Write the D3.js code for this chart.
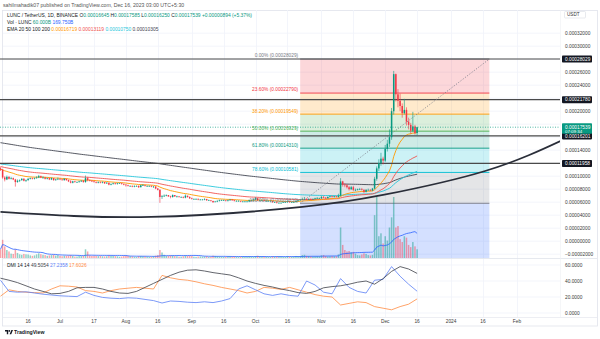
<!DOCTYPE html>
<html>
<head>
<meta charset="utf-8">
<title>LUNC / TetherUS · 1D · BINANCE</title>
<script src="https://cdn.jsdelivr.net/npm/d3@7/dist/d3.min.js"></script>
<style>
  html,body{margin:0;padding:0;background:#fff;}
  svg{display:block;font-family:"Liberation Sans",Arial,sans-serif;}
</style>
</head>
<body>
<svg id="chart" width="600" height="339"></svg>
<script>
// ---- daily candles, 3 Jun 2023 .. 16 Dec 2023 (open = previous close) ----
const startDate = "2023-06-03";
const firstOpen = 11.2e-5;
const closes = [
  11.0e-5,9.8e-5,9.5e-5,9.9e-5,9.6e-5,9.7e-5,9.5e-5,9.1e-5,9.3e-5,9.4e-5,9.6e-5,9.3e-5,9.4e-5,9.6e-5,9.7e-5,9.6e-5,9.7e-5,9.8e-5,10.0e-5,9.8e-5,9.8e-5,9.6e-5,9.7e-5,9.5e-5,9.7e-5,9.4e-5,9.5e-5,9.6e-5,
  9.5e-5,9.4e-5,9.6e-5,9.4e-5,9.2e-5,9.0e-5,9.2e-5,9.1e-5,9.1e-5,9.2e-5,9.3e-5,9.1e-5,9.7e-5,9.4e-5,9.3e-5,9.2e-5,9.1e-5,9.0e-5,9.1e-5,9.0e-5,9.1e-5,8.9e-5,9.0e-5,8.7e-5,8.8e-5,8.9e-5,8.8e-5,8.9e-5,8.9e-5,8.8e-5,8.7e-5,
  8.6e-5,8.5e-5,8.5e-5,8.4e-5,8.5e-5,8.5e-5,8.3e-5,8.6e-5,8.6e-5,8.5e-5,8.5e-5,8.5e-5,8.4e-5,8.4e-5,8.1e-5,7.9e-5,6.8e-5,6.9e-5,7.0e-5,7.1e-5,6.9e-5,6.8e-5,7.1e-5,6.9e-5,6.9e-5,6.8e-5,6.8e-5,6.7e-5,7.0e-5,6.8e-5,6.6e-5,
  6.5e-5,6.5e-5,6.5e-5,6.4e-5,6.4e-5,6.4e-5,6.5e-5,6.3e-5,6.3e-5,6.2e-5,6.0e-5,6.1e-5,6.2e-5,6.3e-5,6.3e-5,6.3e-5,6.2e-5,6.3e-5,6.4e-5,6.3e-5,6.2e-5,6.2e-5,6.2e-5,6.1e-5,6.1e-5,6.1e-5,6.1e-5,6.3e-5,6.3e-5,6.4e-5,
  6.6e-5,6.3e-5,6.3e-5,6.3e-5,6.2e-5,6.2e-5,6.2e-5,6.2e-5,6.0e-5,6.0e-5,5.9e-5,5.9e-5,5.9e-5,6.0e-5,6.0e-5,6.1e-5,6.0e-5,6.0e-5,6.0e-5,6.2e-5,6.3e-5,6.4e-5,6.5e-5,6.5e-5,6.4e-5,6.5e-5,6.4e-5,6.5e-5,6.6e-5,6.6e-5,6.6e-5,
  6.8e-5,6.7e-5,6.6e-5,6.8e-5,6.9e-5,6.8e-5,6.9e-5,6.8e-5,7.0e-5,9.2e-5,8.7e-5,8.6e-5,8.3e-5,8.0e-5,8.3e-5,7.9e-5,7.9e-5,8.0e-5,8.0e-5,7.9e-5,7.6e-5,7.9e-5,7.9e-5,7.8e-5,8.1e-5,9.6e-5,11.2e-5,12.0e-5,12.7e-5,12.4e-5,
  14.2e-5,15.0e-5,16.0e-5,20.0e-5,25.7e-5,22.6e-5,21.6e-5,20.8e-5,19.7e-5,20.2e-5,18.4e-5,17.9e-5,17.0e-5,17.65e-5,16.645e-5,17.539e-5
];
const highs = [
  11.4e-5,11.1e-5,10.0e-5,10.1e-5,10.0e-5,9.9e-5,9.8e-5,9.6e-5,9.5e-5,9.5e-5,9.7e-5,9.7e-5,9.5e-5,9.7e-5,9.8e-5,9.8e-5,9.8e-5,10.0e-5,10.2e-5,10.1e-5,10.0e-5,9.9e-5,9.8e-5,9.8e-5,9.8e-5,9.7e-5,9.6e-5,9.8e-5,
  9.7e-5,9.6e-5,9.7e-5,9.6e-5,9.5e-5,9.4e-5,9.3e-5,9.3e-5,9.2e-5,9.3e-5,9.4e-5,9.4e-5,10.1e-5,9.9e-5,9.5e-5,9.4e-5,9.3e-5,9.2e-5,9.2e-5,9.2e-5,9.2e-5,9.1e-5,9.1e-5,9.0e-5,8.9e-5,9.0e-5,9.0e-5,9.0e-5,9.0e-5,9.0e-5,8.9e-5,
  8.8e-5,8.7e-5,8.6e-5,8.6e-5,8.6e-5,8.6e-5,8.6e-5,8.7e-5,8.8e-5,8.7e-5,8.6e-5,8.6e-5,8.6e-5,8.5e-5,8.5e-5,8.2e-5,8.0e-5,7.1e-5,7.2e-5,7.2e-5,7.1e-5,7.0e-5,7.2e-5,7.1e-5,7.0e-5,6.9e-5,6.9e-5,6.9e-5,7.2e-5,7.0e-5,6.9e-5,
  6.7e-5,6.6e-5,6.6e-5,6.6e-5,6.5e-5,6.5e-5,6.6e-5,6.5e-5,6.4e-5,6.3e-5,6.2e-5,6.2e-5,6.3e-5,6.4e-5,6.4e-5,6.4e-5,6.3e-5,6.4e-5,6.5e-5,6.5e-5,6.4e-5,6.3e-5,6.3e-5,6.2e-5,6.2e-5,6.2e-5,6.2e-5,6.4e-5,6.4e-5,6.5e-5,
  6.8e-5,6.7e-5,6.4e-5,6.4e-5,6.4e-5,6.3e-5,6.3e-5,6.3e-5,6.2e-5,6.1e-5,6.1e-5,6.0e-5,6.0e-5,6.1e-5,6.1e-5,6.3e-5,6.2e-5,6.1e-5,6.1e-5,6.3e-5,6.4e-5,6.5e-5,6.7e-5,6.8e-5,6.6e-5,6.6e-5,6.6e-5,6.6e-5,6.7e-5,6.8e-5,6.7e-5,
  7.0e-5,7.0e-5,6.8e-5,6.9e-5,7.0e-5,7.0e-5,7.0e-5,7.0e-5,7.3e-5,9.7e-5,9.3e-5,8.9e-5,8.8e-5,8.5e-5,8.5e-5,8.5e-5,8.1e-5,8.1e-5,8.2e-5,8.2e-5,8.0e-5,8.0e-5,8.1e-5,8.0e-5,8.2e-5,9.9e-5,11.5e-5,12.6e-5,13.6e-5,13.0e-5,
  14.8e-5,15.6e-5,17.2e-5,20.5e-5,26.2e-5,25.8e-5,23.4e-5,22.7e-5,21.2e-5,21.9e-5,20.6e-5,19.0e-5,18.2e-5,19.9e-5,17.9e-5,17.585e-5
];
const lows = [
  10.8e-5,9.6e-5,9.2e-5,9.4e-5,9.5e-5,9.5e-5,9.4e-5,8.4e-5,9.0e-5,9.1e-5,9.3e-5,9.2e-5,9.1e-5,9.3e-5,9.5e-5,9.5e-5,9.5e-5,9.6e-5,9.7e-5,9.7e-5,9.6e-5,9.5e-5,9.5e-5,9.4e-5,9.4e-5,9.3e-5,9.3e-5,9.4e-5,
  9.4e-5,9.3e-5,9.3e-5,9.3e-5,9.1e-5,8.9e-5,8.9e-5,9.0e-5,9.0e-5,9.0e-5,9.1e-5,9.0e-5,9.0e-5,9.2e-5,9.2e-5,9.1e-5,9.0e-5,8.9e-5,8.9e-5,8.9e-5,8.9e-5,8.8e-5,8.8e-5,8.6e-5,8.6e-5,8.7e-5,8.7e-5,8.7e-5,8.8e-5,8.7e-5,8.6e-5,
  8.4e-5,8.4e-5,8.4e-5,8.3e-5,8.3e-5,8.4e-5,8.2e-5,8.3e-5,8.5e-5,8.4e-5,8.4e-5,8.4e-5,8.3e-5,8.2e-5,8.0e-5,7.8e-5,5.9e-5,6.5e-5,6.8e-5,6.9e-5,6.8e-5,6.6e-5,6.7e-5,6.8e-5,6.7e-5,6.7e-5,6.7e-5,6.6e-5,6.6e-5,6.7e-5,6.5e-5,
  6.4e-5,6.4e-5,6.4e-5,6.3e-5,6.3e-5,6.3e-5,6.3e-5,6.2e-5,6.2e-5,6.1e-5,5.9e-5,6.0e-5,6.0e-5,6.1e-5,6.2e-5,6.2e-5,6.1e-5,6.1e-5,6.2e-5,6.2e-5,6.1e-5,6.1e-5,6.1e-5,6.0e-5,6.0e-5,6.0e-5,6.0e-5,6.0e-5,6.2e-5,6.2e-5,
  6.3e-5,6.2e-5,6.2e-5,6.2e-5,6.1e-5,6.1e-5,6.1e-5,6.1e-5,5.9e-5,5.9e-5,5.8e-5,5.8e-5,5.8e-5,5.9e-5,5.9e-5,5.9e-5,5.9e-5,5.9e-5,5.9e-5,6.0e-5,6.1e-5,6.2e-5,6.3e-5,6.4e-5,6.3e-5,6.3e-5,6.3e-5,6.4e-5,6.4e-5,6.5e-5,6.5e-5,
  6.5e-5,6.6e-5,6.5e-5,6.6e-5,6.7e-5,6.7e-5,6.7e-5,6.7e-5,6.7e-5,6.9e-5,8.4e-5,8.3e-5,8.1e-5,7.8e-5,7.9e-5,7.7e-5,7.7e-5,7.8e-5,7.9e-5,7.8e-5,7.4e-5,7.5e-5,7.8e-5,7.7e-5,7.7e-5,8.0e-5,9.3e-5,10.8e-5,11.6e-5,11.8e-5,
  12.2e-5,13.8e-5,14.5e-5,15.6e-5,19.5e-5,21.5e-5,20.6e-5,20.0e-5,19.0e-5,19.5e-5,17.8e-5,17.2e-5,16.5e-5,16.8e-5,16.4e-5,16.25e-5
];
// daily volume, billions of LUNC
const volumes = [
  60,125,80,55,45,30,28,60,35,25,22,28,25,24,18,15,18,25,32,26,22,20,15,18,20,22,17,20,
  14,12,16,15,17,20,15,10,10,14,13,15,60,45,18,14,15,14,13,15,12,11,12,18,14,15,13,12,9,10,13,
  15,14,12,11,9,8,13,14,12,11,10,8,9,12,16,20,55,38,22,14,15,18,17,13,12,9,9,12,18,14,15,
  13,9,8,10,11,10,11,12,7,8,16,14,12,11,10,8,8,12,11,10,11,9,7,8,10,9,9,12,10,8,
  14,16,11,10,9,8,7,7,12,10,11,10,9,7,7,13,10,9,10,14,12,13,20,22,15,14,12,10,11,13,12,
  18,20,14,11,12,13,12,12,25,210,90,55,45,48,40,42,30,20,18,24,32,28,20,18,22,295,420,150,170,100,
  150,120,210,280,420,210,220,130,110,150,140,90,75,110,80,60
];
const volMaLength = 20;

// exponential moving averages: periods, value carried in from before 3 Jun, colours
const emaPeriods = [20, 50, 100, 200];
const emaSeeds = [11.1e-5, 11.5e-5, 11.9e-5, 15.2e-5];
const emaColors = ["#ff9800", "#ef5350", "#26c6da", "#434651"];

// DMI (14, 14), read every 4 days from 3 Jun
const dmiStep = 4;
const adx = [43.5,41,38,34,30,27,24,24.5,27,31.5,32,32,30,27,25,24.5,27,32,37,42,47,51,53.5,54,52.5,50.5,49,47.5,44,40,37,34.5,32.5,30,28,25.5,24.5,27,31.5,33,34,36,38.5,40,36,43,52,58,55,49.5054];
const plusDI = [41,27,26,26.5,25,23.5,22.5,21.5,21,20.5,26,22,19.5,18.5,18,19,18.5,17,15.5,12.5,15,14.5,13.5,13,14,13,15,18,30,34,29,24,22,24,22,21,40,35,26,24,43,32,27,25,41,42,58,46,36,27.2358];
const minusDI = [21,29,27,26,25.5,25,30,34,33.5,32.5,28,27,25,28,30,31,32,31,30,47,44,42,41,39,36.5,34.5,32,30,28,25,27,32,31,29.5,32,29,26,23,21,20,10,12,14,13,8,6,4,8,11,17.6026];

// horizontal support / resistance levels
const levelPrices = [0.00028029, 0.00021780, 0.00016201, 0.00011958];

// Fibonacci retracement
const fibLevels = [0, 0.236, 0.382, 0.5, 0.618, 0.786, 1, 1.618];
const fibColors = ["#787b86", "#f23645", "#ff9800", "#4caf50", "#089981", "#00bcd4", "#787b86", "#2962ff"];
const fibHigh = 0.00028029, fibLow = 0.0000583;
const fibStart = "2023-10-22", fibEnd = "2024-01-19";

// rounded-bottom arc
const arcDates = ["2023-06-03", "2023-08-13", "2023-10-23", "2023-11-30", "2024-01-17", "2024-02-24"];
const arcPrices = [4.5e-5, 3.73e-5, 5.27e-5, 7.11e-5, 10.8e-5, 15.8e-5];

// axes
const priceTicks = [-0.00002, 0, 0.00002, 0.00004, 0.00006, 0.00008, 0.0001, 0.00012, 0.00014, 0.00016, 0.00018, 0.0002, 0.00022, 0.00024, 0.00026, 0.00028, 0.0003, 0.00032];
const dmiTicks = [0, 20, 40, 60];
const timeTickDates = ["2023-06-16","2023-07-01","2023-07-17","2023-08-01","2023-08-16","2023-09-01","2023-09-16","2023-10-01","2023-10-16","2023-11-01","2023-11-16","2023-12-01","2023-12-16","2024-01-01","2024-01-16","2024-02-01"];
const timeTickLabels = ["16","Jul","17","Aug","16","Sep","16","Oct","16","Nov","16","Dec","16","2024","16","Feb"];
const countdown = "07:09:34";

// ---------------------------------------------------------------------
const parseDay = d3.utcParse("%Y-%m-%d");
const start = parseDay(startDate);
const days = closes.map((_, i) => d3.utcDay.offset(start, i));
const opens = closes.map((c, i) => i ? closes[i - 1] : firstOpen);
const up = "#089981", down = "#f23645";

const plotR = 560, priceTop = 10, priceBot = 258, dmiTop = 258, dmiBot = 317;
const x = d3.scaleUtc().domain([parseDay("2023-07-01"), parseDay("2024-02-01")]).range([60, 517]);
const y = d3.scaleLinear().domain([0, 0.00032]).range([241.2, 33.2]);
const yVol = d3.scaleLinear().domain([0, 420]).range([priceBot, priceBot - 61]);
const yDmi = d3.scaleLinear().domain([0, 60]).range([313, 265]);

const svg = d3.select("#chart");
const defs = svg.append("defs");
defs.append("clipPath").attr("id", "clipPrice").append("rect").attr("x", 0).attr("y", priceTop).attr("width", plotR).attr("height", priceBot - priceTop);
defs.append("clipPath").attr("id", "clipDmi").append("rect").attr("x", 0).attr("y", dmiTop).attr("width", plotR).attr("height", dmiBot - dmiTop);

svg.append("rect").attr("width", 600).attr("height", 339).attr("fill", "#fff");

// header
svg.append("text").attr("x", 3).attr("y", 7.2).attr("font-size", 5.2).attr("fill", "#555")
  .text("sahilmahadik07 published on TradingView.com, Dec 16, 2023 03:00 UTC+5:30");

// frame
svg.append("rect").attr("x", 2.5).attr("y", 10.5).attr("width", 595).attr("height", 315.5)
  .attr("fill", "none").attr("stroke", "#e0e3eb").attr("stroke-width", 0.8);

// grid
const grid = svg.append("g").attr("stroke", "#f0f3fa").attr("stroke-width", 0.8);
timeTickDates.forEach(d => {
  const gx = Math.round(x(parseDay(d))) + 0.5;
  grid.append("line").attr("x1", gx).attr("x2", gx).attr("y1", priceTop).attr("y2", dmiBot);
});
priceTicks.forEach(p => grid.append("line").attr("x1", 3).attr("x2", plotR).attr("y1", y(p)).attr("y2", y(p)));
dmiTicks.forEach(v => grid.append("line").attr("x1", 3).attr("x2", plotR).attr("y1", yDmi(v)).attr("y2", yDmi(v)));

const pane = svg.append("g").attr("clip-path", "url(#clipPrice)");

// fibonacci zones and levels
const fx0 = x(parseDay(fibStart)), fx1 = x(parseDay(fibEnd));
const fibPrice = l => fibHigh - l * (fibHigh - fibLow);
for (let i = 1; i < fibLevels.length; i++) {
  const yA = y(fibPrice(fibLevels[i - 1])), yB = y(fibPrice(fibLevels[i]));
  pane.append("rect").attr("x", fx0).attr("width", fx1 - fx0).attr("y", yA).attr("height", yB - yA)
    .attr("fill", fibColors[i]).attr("fill-opacity", 0.2);
}
fibLevels.forEach((l, i) => {
  pane.append("line").attr("x1", fx0).attr("x2", fx1).attr("y1", y(fibPrice(l))).attr("y2", y(fibPrice(l)))
    .attr("stroke", fibColors[i]).attr("stroke-width", 0.9);
});

// volume
pane.append("g").selectAll("rect").data(days).join("rect")
  .attr("x", (d, i) => x(d) - 0.75).attr("width", 1.5)
  .attr("y", (d, i) => yVol(volumes[i])).attr("height", (d, i) => priceBot - yVol(volumes[i]))
  .attr("fill", (d, i) => closes[i] >= opens[i] ? "rgba(8,153,129,0.45)" : "rgba(242,54,69,0.45)");
const volMA = volumes.map((v, i) => d3.mean(volumes.slice(Math.max(0, i - volMaLength + 1), i + 1)));
pane.append("path").datum(days).attr("fill", "none").attr("stroke", "#2962ff").attr("stroke-width", 0.8)
  .attr("d", d3.line().x(d => x(d)).y((d, i) => yVol(volMA[i])));

// EMAs
const emaSeries = emaPeriods.map((p, j) => {
  const k = 2 / (p + 1);
  let prev = emaSeeds[j];
  return closes.map(c => (prev = prev + k * (c - prev)));
});
emaSeries.slice().reverse().forEach((s, jr) => {
  const j = emaSeries.length - 1 - jr;
  pane.append("path").datum(s).attr("fill", "none").attr("stroke", emaColors[j]).attr("stroke-width", 0.9)
    .attr("d", d3.line().x((d, i) => x(days[i])).y(d => y(d)));
});

// horizontal levels
levelPrices.forEach(p => pane.append("line").attr("x1", 0).attr("x2", plotR).attr("y1", y(p)).attr("y2", y(p))
  .attr("stroke", "#4a4a4a").attr("stroke-width", 1.2));

// arc
pane.append("path").datum(arcDates.map((d, i) => [parseDay(d), arcPrices[i]]))
  .attr("fill", "none").attr("stroke", "#2a2e39").attr("stroke-width", 1.8)
  .attr("d", d3.line().x(d => x(d[0])).y(d => y(d[1])).curve(d3.curveNatural));

// fib trend line
pane.append("line").attr("x1", fx0).attr("y1", y(fibLow)).attr("x2", fx1).attr("y2", y(fibHigh))
  .attr("stroke", "#787b86").attr("stroke-width", 0.8).attr("stroke-dasharray", "1.2,1.6");

// candles
const candles = pane.append("g");
days.forEach((d, i) => {
  const col = closes[i] >= opens[i] ? up : down;
  const cx = x(d);
  candles.append("line").attr("x1", cx).attr("x2", cx).attr("y1", y(highs[i])).attr("y2", y(lows[i]))
    .attr("stroke", col).attr("stroke-width", 0.6);
  const top = y(Math.max(opens[i], closes[i])), bot = y(Math.min(opens[i], closes[i]));
  candles.append("rect").attr("x", cx - 0.75).attr("width", 1.5).attr("y", top).attr("height", Math.max(0.6, bot - top))
    .attr("fill", col);
});

// fib labels
fibLevels.forEach((l, i) => {
  if (l > 1) return;
  pane.append("text").attr("x", fx0 - 2).attr("y", y(fibPrice(l)) - 1.6).attr("text-anchor", "end")
    .attr("font-size", 4.8).attr("fill", fibColors[i])
    .text(`${(l * 100).toFixed(2)}% (${fibPrice(l).toFixed(8)})`);
});

// last price line
const last = closes.length - 1;
pane.append("line").attr("x1", 0).attr("x2", plotR).attr("y1", y(closes[last])).attr("y2", y(closes[last]))
  .attr("stroke", up).attr("stroke-width", 0.7).attr("stroke-dasharray", "1,1.5");

// pane separator and price axis border
svg.append("line").attr("x1", 3).attr("x2", 597).attr("y1", priceBot + 0.5).attr("y2", priceBot + 0.5).attr("stroke", "#e0e3eb").attr("stroke-width", 0.8);
svg.append("line").attr("x1", plotR + 0.5).attr("x2", plotR + 0.5).attr("y1", priceTop).attr("y2", dmiBot).attr("stroke", "#eef0f4").attr("stroke-width", 0.6);

// price axis
const f8 = d3.format(".8f");
const axisX = plotR + 5;
const specialYs = levelPrices.map(y).concat([y(closes[last]), y(closes[last]) + 4]);
priceTicks.forEach(p => {
  const ty = y(p);
  if (specialYs.some(s => Math.abs(s - ty) < 5)) return;
  svg.append("text").attr("x", axisX).attr("y", ty + 1.7).attr("font-size", 4.8).attr("fill", "#3a3a3a").text(f8(p));
});
levelPrices.forEach(p => {
  svg.append("rect").attr("x", plotR + 2).attr("y", y(p) - 3.5).attr("width", 30).attr("height", 7).attr("rx", 0.8).attr("fill", "#131722");
  svg.append("text").attr("x", axisX).attr("y", y(p) + 1.7).attr("font-size", 4.8).attr("fill", "#fff").text(f8(p));
});
{
  const ly = y(closes[last]);
  svg.append("rect").attr("x", plotR + 2).attr("y", ly - 4).attr("width", 30).attr("height", 10.5).attr("rx", 0.8).attr("fill", up);
  svg.append("text").attr("x", axisX).attr("y", ly + 1.4).attr("font-size", 4.8).attr("fill", "#fff").text(f8(closes[last]));
  svg.append("text").attr("x", axisX).attr("y", ly + 5.6).attr("font-size", 4.4).attr("fill", "#fff").text(countdown);
}
svg.append("rect").attr("x", 564.5).attr("y", 11.5).attr("width", 21).attr("height", 6.5).attr("rx", 1)
  .attr("fill", "#fff").attr("stroke", "#d1d4dc").attr("stroke-width", 0.5);
svg.append("text").attr("x", 567).attr("y", 16.4).attr("font-size", 4.6).attr("fill", "#333").text("USDT");

// legends
const legend = (yy, parts) => {
  const t = svg.append("text").attr("x", 7).attr("y", yy).attr("font-size", 4.9);
  parts.forEach(([s, c]) => t.append("tspan").attr("fill", c).text(s));
};
const chg = closes[last] - closes[last - 1];
const candleCol = chg >= 0 ? up : down;
legend(17, [
  ["LUNC / TetherUS, 1D, BINANCE  ", "#131722"],
  ["O", "#131722"], [f8(opens[last]) + " ", candleCol],
  ["H", "#131722"], [f8(highs[last]) + " ", candleCol],
  ["L", "#131722"], [f8(lows[last]) + " ", candleCol],
  ["C", "#131722"], [f8(closes[last]) + " ", candleCol],
  [(chg >= 0 ? "+" : "") + f8(chg) + " (" + (chg >= 0 ? "+" : "") + (chg / closes[last - 1] * 100).toFixed(2) + "%)", candleCol]
]);
legend(24, [["Vol · LUNC  ", "#131722"], [d3.format(".3f")(volumes[last]) + "B  ", up], [d3.format(".3f")(volMA[last]) + "B", "#2962ff"]]);
legend(31, [["EMA 20 50 100 200  ", "#131722"]].concat(emaSeries.map((s, j) => [f8(s[last]) + "  ", emaColors[j]])));

// DMI pane
const dmiPane = svg.append("g").attr("clip-path", "url(#clipDmi)");
const dmiX = (d, k) => x(d3.utcDay.offset(start, k * dmiStep));
[[minusDI, "#ff8c42"], [plusDI, "#5b7ff5"], [adx, "#3c3f48"]].forEach(([s, c]) => {
  dmiPane.append("path").datum(s).attr("fill", "none").attr("stroke", c).attr("stroke-width", 0.8)
    .attr("d", d3.line().x((d, k) => dmiX(d, k)).y(d => yDmi(d)));
});
dmiTicks.forEach(v => svg.append("text").attr("x", axisX).attr("y", yDmi(v) + 1.7).attr("font-size", 4.8).attr("fill", "#3a3a3a").text(d3.format(".4f")(v)));
legend(267, [["DMI 14 14  ", "#131722"], [adx[adx.length - 1].toFixed(4) + "  ", "#3c3f48"], [plusDI[plusDI.length - 1].toFixed(4) + "  ", "#5b7ff5"], [minusDI[minusDI.length - 1].toFixed(4), "#ff8c42"]]);

// time axis
svg.append("line").attr("x1", 3).attr("x2", 597).attr("y1", dmiBot + 0.5).attr("y2", dmiBot + 0.5).attr("stroke", "#e0e3eb").attr("stroke-width", 0.6);
timeTickDates.forEach((d, i) => {
  svg.append("text").attr("x", x(parseDay(d))).attr("y", 322.5).attr("text-anchor", "middle")
    .attr("font-size", 4.8).attr("fill", "#3a3a3a").text(timeTickLabels[i]);
});

// footer mark
const logo = svg.append("g").attr("transform", "translate(5,330)");
logo.append("path").attr("d", "M0,0h3.2v4.2h-1.4v-2.8h-1.8z").attr("fill", "#131722");
logo.append("circle").attr("cx", 4.3).attr("cy", 0.9).attr("r", 0.9).attr("fill", "#131722");
logo.append("path").attr("d", "M4.6,4.2l1.8,-4.2h1.6l-1.8,4.2z").attr("fill", "#131722");
svg.append("text").attr("x", 14).attr("y", 334.3).attr("font-size", 5.2).attr("font-weight", "bold").attr("fill", "#131722").text("TradingView");
</script>
</body>
</html>
